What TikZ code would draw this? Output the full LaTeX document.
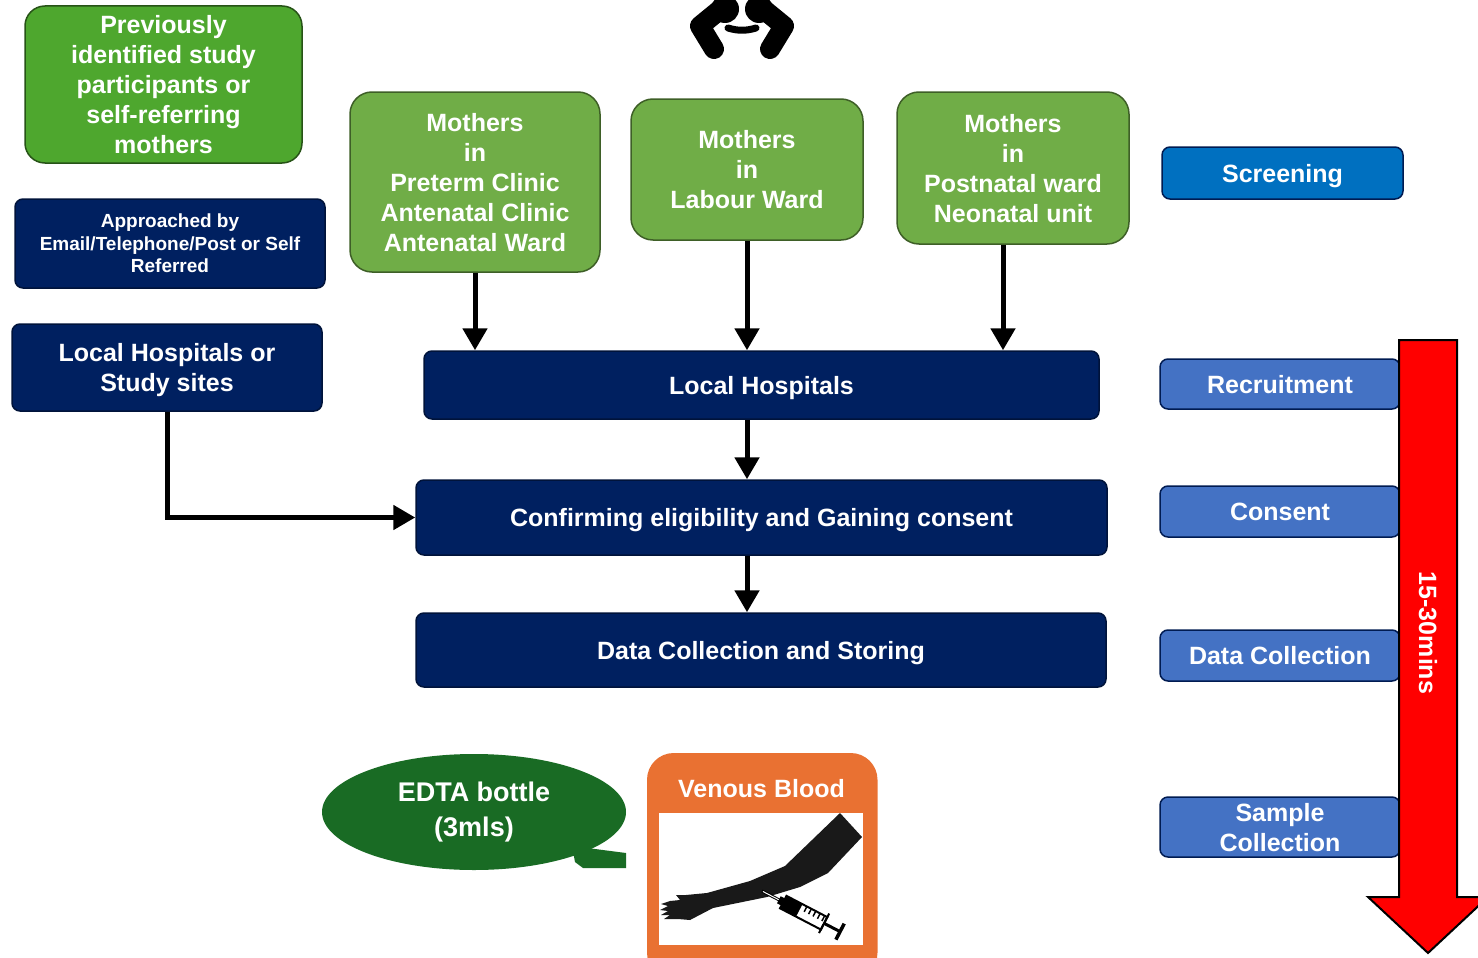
\documentclass[tikz,border=0pt]{standalone}
\usepackage{fontspec}
\setmainfont{Liberation Sans}
\usetikzlibrary{arrows.meta, shapes.geometric}

\definecolor{navy}{HTML}{002060}
\definecolor{leafgreen}{HTML}{4EA72E}
\definecolor{olivegreen}{HTML}{70AD47}
\definecolor{darkleaf}{HTML}{196B24}
\definecolor{stageblue}{HTML}{4472C4}
\definecolor{screenblue}{HTML}{0070C0}
\definecolor{bloodorange}{HTML}{E97132}

\begin{document}
\begin{tikzpicture}[
    x=1pt, y=-1pt,
    box/.style       = {rectangle, draw, line width=1.5pt, inner sep=0pt,
                        align=center, text=white, text depth=0pt,
                        font=\bfseries\fontsize{25}{30}\selectfont},
    sourcebox/.style = {box, fill=olivegreen, draw=olivegreen!55!black,
                        rounded corners=22pt},
    navybox/.style   = {box, fill=navy, draw=navy!60!black, rounded corners=8pt},
    stagebox/.style  = {box, fill=stageblue, draw=navy!85!black,
                        rounded corners=8pt, minimum width=240pt},
    arrow/.style     = {-{Triangle[width=24pt,length=22pt]}, line width=5pt}
]
\useasboundingbox (0,0) rectangle (1478,958);

% ========= entry routes (left) =========
\node[box, fill=leafgreen, draw=leafgreen!50!black, rounded corners=20pt,
      minimum width=277pt, minimum height=157pt] (previous) at (163.5,84.5)
    {Previously\\identified study\\participants or\\self-referring\\mothers};
\node[navybox, minimum width=310pt, minimum height=89pt,
      font=\bfseries\fontsize{19}{22.5}\selectfont] (approach) at (170,243.5)
    {Approached by\\Email/Telephone/Post or Self\\Referred};
\node[navybox, minimum width=310pt, minimum height=87pt] (sites) at (167,367.5)
    {Local Hospitals or\\Study sites};

% ========= ward sources =========
\node[sourcebox, minimum width=250pt, minimum height=180pt] (preterm) at (475,182)
    {Mothers\\in\\Preterm Clinic\\Antenatal Clinic\\Antenatal Ward};
\node[sourcebox, minimum width=232pt, minimum height=141pt] (labour) at (747,169.5)
    {Mothers\\in\\Labour Ward};
\node[sourcebox, minimum width=232pt, minimum height=152pt] (postnatal) at (1013,168)
    {Mothers\\in\\Postnatal ward\\Neonatal unit};

% handshake icon
\begin{scope}[line cap=round, line join=round]
  \draw[line width=20pt] (722,8) -- (700,26) -- (714,49);
  \draw[line width=20pt] (762,8) -- (784,26) -- (770,49);
  \fill (725,9) circle (14pt) (759,9) circle (14pt);
  \draw[line width=7pt] (728,28) .. controls (738,31) and (746,31) .. (756,28);
\end{scope}

% ========= central pipeline =========
\node[navybox, minimum width=675pt, minimum height=68pt] (hospitals) at (761.5,385)
    {Local Hospitals};
\node[navybox, minimum width=691pt, minimum height=75pt] (confirm) at (761.5,517.5)
    {Confirming eligibility and Gaining consent};
\node[navybox, minimum width=690pt, minimum height=74pt] (collect) at (761,650)
    {Data Collection and Storing};

\draw[arrow] (preterm.south) -- (preterm.south |- hospitals.north);
\draw[arrow] (labour.south) -- (labour.south |- hospitals.north);
\draw[arrow] ([xshift=-10pt]postnatal.south) -- ([xshift=-10pt]postnatal.south |- hospitals.north);
\draw[arrow] (hospitals.south -| labour.south) -- (confirm.north -| labour.south);
\draw[arrow] (confirm.south -| labour.south) -- (collect.north -| labour.south);
\draw[arrow, line join=miter] (sites.south) |- (confirm.west);

% ========= sampling =========
\fill[darkleaf] (572,846) -- (626,853) -- (626,868) -- (583,868) -- (575,862) -- cycle;
\node[ellipse, fill=darkleaf, minimum width=304pt, minimum height=116pt, inner sep=0pt,
      align=center, text=white, font=\bfseries\fontsize{27}{35}\selectfont] (edta) at (474,812)
    {EDTA bottle\\(3mls)};

\node[box, fill=bloodorange, draw=bloodorange, rounded corners=26pt,
      minimum width=229pt, minimum height=225pt, anchor=north west] (venous) at (647,753) {};
\node[text=white, font=\bfseries\fontsize{25}{28}\selectfont] (venoustitle) at (761.5,789)
    {Venous Blood};
\node[fill=white, minimum width=204pt, minimum height=132pt, inner sep=0pt,
      anchor=north west] (armpanel) at (659,813) {};

% arm
\fill[black!90] (840,813) -- (862,837) -- (828,873) -- (800,887) -- (767,897)
    -- (713,908) -- (690,920) -- (678,919) -- (664,919) -- (670,915) -- (661,915)
    -- (668,911) -- (660,910) -- (668,906) -- (661,904) -- (670,901) -- (680,900)
    -- (676,895) -- (686,895) -- (707,893) -- (750,881) -- (785,866) -- (812,840) -- cycle;
% syringe
\begin{scope}[shift={(762,891)}, rotate=-27.5]
  \draw[line width=3pt] (0,0) -- (20,0);
  \draw[white, line width=1pt] (1,0) -- (19,0);
  \fill (19,-4) rectangle (24,4);
  \draw[fill=white, line width=2pt] (24,-7) rectangle (70,7);
  \fill (24,-7) rectangle (42,7);
  \foreach \t in {47,52,...,67}
    \draw[line width=1.5pt] (\t,-7) -- (\t,-1);
  \draw[line width=2pt] (70,-11) -- (70,11);
  \draw[line width=3pt] (70,0) -- (88,0);
  \draw[line width=3.5pt] (88,-9) -- (88,9);
\end{scope}

% ========= stages (right) =========
\node[box, fill=screenblue, draw=navy!85!black, rounded corners=8pt,
      minimum width=241pt, minimum height=52pt] (screening) at (1282.5,173) {Screening};
\node[stagebox, minimum height=50pt] (recruit) at (1280,384) {Recruitment};
\node[stagebox, minimum height=51pt] (consent) at (1280,511.5) {Consent};
\node[stagebox, minimum height=51pt] (datastage) at (1280,655.5) {Data Collection};
\node[stagebox, minimum height=60pt] (sample) at (1280,827) {Sample\\Collection};

% time arrow
\filldraw[fill=red, draw=black, line width=2pt, line join=miter]
    (1399,340) -- (1457,340) -- (1457,897) -- (1488,897) -- (1428,953)
    -- (1368,897) -- (1399,897) -- cycle;
\node[rotate=-90, text=white, font=\bfseries\fontsize{25}{28}\selectfont] (timespan)
    at (1428,633) {15-30mins};

\end{tikzpicture}
\end{document}
